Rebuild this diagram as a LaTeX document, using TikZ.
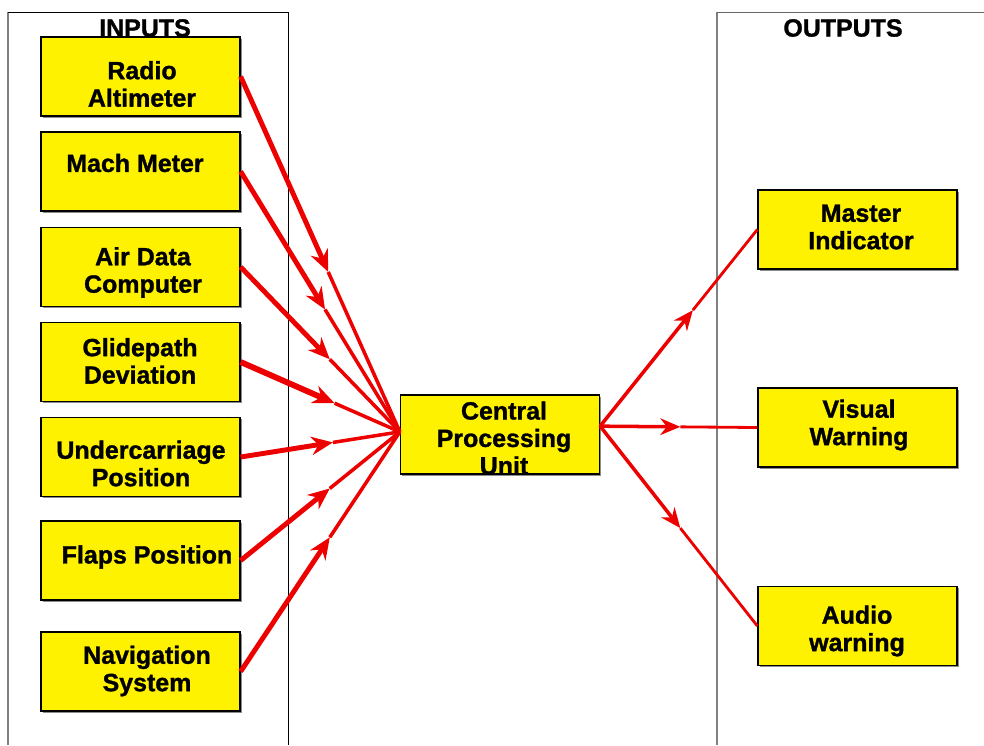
\documentclass[tikz,border=0pt]{standalone}
\usepackage{fontspec}
\setmainfont{Liberation Sans}[BoldFeatures={FakeBold=1.2}]
\usetikzlibrary{arrows.meta,shadows}

\definecolor{boxyellow}{RGB}{255,242,0}
\definecolor{wirered}{RGB}{236,0,0}

\begin{document}
\begin{tikzpicture}[x=0.03cm,y=-0.03cm,>=Stealth,
  box/.style={draw=black,line width=1.1pt,fill=boxyellow,minimum width=5.97cm,minimum height=2.37cm,
    drop shadow={shadow xshift=0.05cm,shadow yshift=-0.05cm,fill=black!45,opacity=1}},
  lbl/.style={align=center,inner sep=0pt,font=\fontsize{21.3}{23.4}\selectfont\bfseries},
  feed/.style={draw=wirered,line width=3pt},
  feedarrow/.style={draw=wirered,line width=4.2pt,-{Stealth[length=0.65cm,width=0.55cm]}},
  outfeed/.style={draw=wirered,line width=2.4pt},
  outarrow/.style={draw=wirered,line width=3pt,-{Stealth[length=0.6cm,width=0.5cm]}}]
\useasboundingbox (0,0) rectangle (984,745);

% panels
\draw[black!50,line width=1.5pt] (8,745) -- (8,12);
\draw[black,line width=0.8pt] (8,12) -- (288,12) -- (288,745);
\draw[black!50,line width=1.5pt] (717,745) -- (717,12);
\draw[black!60,line width=0.8pt] (717,12) -- (984,12);
\node[lbl] (inputs) at (145,28) {INPUTS};
\node[lbl] (outputs) at (843,28) {OUTPUTS};

% input boxes
\node[box] (ra) at (140.5,76.5) {};
\node[lbl] (ra-t) at (142,84) {Radio\\Altimeter};
\node[box] (mm) at (140.5,171.5) {};
\node[lbl] (mm-t) at (135,163) {Mach Meter};
\node[box] (ad) at (140.5,267) {};
\node[lbl] (ad-t) at (143,272.5) {Air Data\\Computer};
\node[box] (gd) at (140.5,362) {};
\node[lbl] (gd-t) at (140,361) {Glidepath\\Deviation};
\node[box] (uc) at (140.5,457) {};
\node[lbl] (uc-t) at (141,463.5) {Undercarriage\\Position};
\node[box] (fp) at (140.5,560.5) {};
\node[lbl] (fp-t) at (147,557) {Flaps Position};
\node[box] (ns) at (140.5,671.5) {};
\node[lbl] (ns-t) at (147,671) {Navigation\\System};

% central unit
\node[box] (cpu) at (500,434.5) {};
\node[lbl] (cpu-t) at (504,438) {Central\\Processing\\Unit};
\coordinate (cpu-in) at ([yshift=0.08cm]cpu.west);
\coordinate (cpu-out) at ([yshift=0.25cm]cpu.east);

% output boxes
\node[box] (mi) at (857.5,229.5) {};
\node[lbl] (mi-t) at (861,227) {Master\\Indicator};
\node[box] (vw) at (857.5,427.5) {};
\node[lbl] (vw-t) at (859,425) {Visual\\Warning};
\node[box] (aw) at (857.5,626) {};
\node[lbl] (aw-t) at (857,631) {Audio\\warning};

% inputs to cpu
\path (ra.east) -- coordinate[pos=0.55] (ra-m) (cpu-in);
\draw[feedarrow] (ra.east) -- (ra-m);
\draw[feed] (ra-m) -- (cpu-in);
\path (mm.east) -- coordinate[pos=0.53] (mm-m) (cpu-in);
\draw[feedarrow] (mm.east) -- (mm-m);
\draw[feed] (mm-m) -- (cpu-in);
\path (ad.east) -- coordinate[pos=0.56] (ad-m) (cpu-in);
\draw[feedarrow] (ad.east) -- (ad-m);
\draw[feed] (ad-m) -- (cpu-in);
\path (gd.east) -- coordinate[pos=0.59] (gd-m) (cpu-in);
\draw[feedarrow,line width=5pt] (gd.east) -- (gd-m);
\draw[feed] (gd-m) -- (cpu-in);
\path (uc.east) -- coordinate[pos=0.58] (uc-m) (cpu-in);
\draw[feedarrow] (uc.east) -- (uc-m);
\draw[feed] (uc-m) -- (cpu-in);
\path (fp.east) -- coordinate[pos=0.56] (fp-m) (cpu-in);
\draw[feedarrow] (fp.east) -- (fp-m);
\draw[feed] (fp-m) -- (cpu-in);
\path (ns.east) -- coordinate[pos=0.56] (ns-m) (cpu-in);
\draw[feedarrow] (ns.east) -- (ns-m);
\draw[feed] (ns-m) -- (cpu-in);

% cpu to outputs
\path (cpu-out) -- coordinate[pos=0.59] (mi-m) (mi.west);
\draw[outarrow] (cpu-out) -- (mi-m);
\draw[outfeed] (mi-m) -- (mi.west);
\path (cpu-out) -- coordinate[pos=0.51] (vw-m) (vw.west);
\draw[outarrow] (cpu-out) -- (vw-m);
\draw[outfeed] (vw-m) -- (vw.west);
\path (cpu-out) -- coordinate[pos=0.51] (aw-m) (aw.west);
\draw[outarrow] (cpu-out) -- (aw-m);
\draw[outfeed] (aw-m) -- (aw.west);
\end{tikzpicture}
\end{document}
